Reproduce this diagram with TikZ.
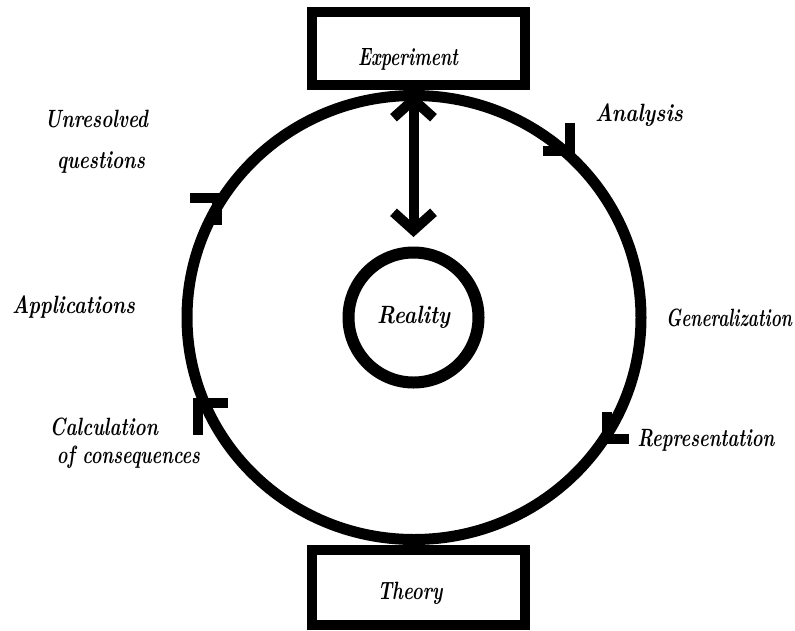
\documentclass[tikz,border=0pt]{standalone}
\usepackage{graphicx}
\usetikzlibrary{arrows.meta}
\newcommand{\lbl}[2]{\resizebox{#1}{\height}{\fontsize{25}{28}\selectfont\bfseries\itshape #2}}
\tikzset{
  box/.style={draw, rectangle, line width=10pt, minimum width=213pt, inner sep=0pt, outer sep=0pt},
  lab/.style={anchor=base, inner sep=0pt},
  barb/.style={line width=10pt, line join=miter, line cap=butt},
  dbl/.style={line width=10pt, {Straight Barb[length=18pt,width=40pt]}-{Straight Barb[length=18pt,width=40pt]}}
}
\begin{document}
\begin{tikzpicture}[x=1pt,y=-1pt]
\useasboundingbox (0,0) rectangle (795,630);
% boxes
\node[box, minimum height=73pt] (exp) at (418.5,48.5) {};
\node[box, minimum height=75pt] (theo) at (418.5,587.5) {};
\node[lab] (expt) at (408,65) {\lbl{100pt}{Experiment}};
\node[lab] (theot) at (410,599) {\lbl{65pt}{Theory}};
% cycle
\draw[line width=11pt] (414,317.5) ellipse [x radius=227pt, y radius=222pt];
% reality
\node[draw, circle, line width=12pt, minimum size=130pt, inner sep=0pt, outer sep=0pt] (real) at (413.5,317.5) {\lbl{73pt}{Reality}};
% double arrow
\draw[dbl, shorten <=8pt, shorten >=15.5pt] (real.north |- exp.south) -- (real.north);
% direction marks
\draw[barb] (543,151) -- (570,151) -- (570,123);
\draw[barb] (607,412) -- (607,439) -- (629,439);
\draw[barb] (228,402.5) -- (197.5,402.5) -- (197.5,435);
\draw[barb] (190,198) -- (217,198) -- (217,225);
% labels
\node[lab] (unres1) at (96.5,127) {\lbl{103pt}{Unresolved}};
\node[lab] (unres2) at (101,168) {\lbl{88pt}{questions}};
\node[lab] (appl) at (73.5,313) {\lbl{123pt}{Applications}};
\node[lab] (calc1) at (104,435) {\lbl{108pt}{Calculation}};
\node[lab] (calc2) at (128.5,463) {\lbl{143pt}{of consequences}};
\node[lab] (anal) at (639,121) {\lbl{88pt}{Analysis}};
\node[lab] (gen) at (729,326) {\lbl{126pt}{Generalization}};
\node[lab] (repr) at (706,446) {\lbl{137pt}{Representation}};
\end{tikzpicture}
\end{document}
